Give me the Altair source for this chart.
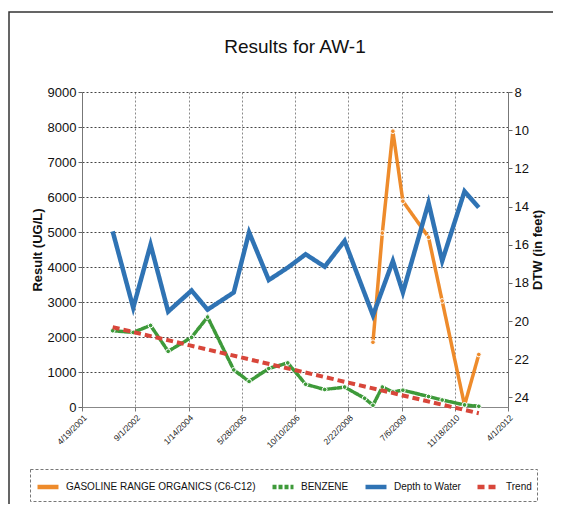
import altair as alt
import pandas as pd

series_names = ["GASOLINE RANGE ORGANICS (C6-C12)", "BENZENE", "Depth to Water", "Trend"]
series_colors = ["#EE8B2B", "#3E9A3A", "#2F73B4", "#D8463A"]
series_dashes = [[1, 0], [4, 2], [1, 0], [7, 4]]

dtw_dates = ["2002-02-01", "2002-08-13", "2003-01-23", "2003-07-07", "2004-02-12",
             "2004-07-11", "2005-03-14", "2005-08-05", "2006-02-06", "2006-08-03",
             "2007-01-18", "2007-07-16", "2008-01-19", "2008-10-11", "2009-04-16",
             "2009-07-19", "2010-03-17", "2010-07-23", "2011-02-18", "2011-07-02"]
dtw_values = [15.3, 19.3, 16.0, 19.5, 18.4, 19.4, 18.5, 15.35, 17.85, 17.2,
              16.5, 17.15, 15.8, 19.7, 16.85, 18.5, 13.8, 16.85, 13.2, 14.05]

gro_dates = ["2008-10-11", "2009-01-07", "2009-04-16", "2009-07-19", "2010-03-17",
             "2010-07-23", "2011-02-18", "2011-07-02"]
gro_values = [1850, 4970, 7880, 5880, 4850, 3030, 50, 1500]

benz_dates = ["2002-02-01", "2002-08-13", "2003-01-23", "2003-07-07", "2004-02-12",
              "2004-07-11", "2005-03-14", "2005-08-05", "2006-02-06", "2006-08-03",
              "2007-01-18", "2007-07-16", "2008-01-19", "2008-07-25", "2008-10-11",
              "2009-01-07", "2009-04-16", "2009-07-19", "2010-03-17", "2010-07-23",
              "2011-02-18", "2011-07-02"]
benz_values = [2180, 2130, 2330, 1590, 1990, 2570, 1060, 730, 1100, 1260,
               650, 500, 570, 250, 50, 570, 430, 480, 300, 200, 60, 20]

trend_dates = ["2002-02-01", "2011-07-02"]
trend_values = [2280, -180]

x_ticks = [(2001, 4, 19), (2002, 9, 1), (2004, 1, 14), (2005, 5, 28), (2006, 10, 10),
           (2008, 2, 22), (2009, 7, 6), (2010, 11, 18), (2012, 4, 1)]
left_ticks = list(range(0, 9001, 1000))
right_ticks = list(range(8, 25, 2))

FONT = "Liberation Sans"


def rows(name, dates, values, col):
    return pd.DataFrame({"series": name, "date": [d + "T00:00:00" for d in dates], col: values})


chem = pd.concat([rows(series_names[0], gro_dates, gro_values, "value"),
                  rows(series_names[1], benz_dates, benz_values, "value")])
trend = rows(series_names[3], trend_dates, trend_values, "value")
dtw = rows(series_names[2], dtw_dates, dtw_values, "dtw")

dt = [alt.DateTime(year=y, month=m, date=d) for (y, m, d) in x_ticks]

x_enc = alt.X("date:T",
              scale=alt.Scale(domain=[dt[0], dt[-1]]),
              axis=alt.Axis(values=dt, format="%-m/%-d/%Y", labelAngle=-45,
                            labelFontSize=8.5, labelFont=FONT, labelColor="#222",
                            grid=True, gridColor="#8a8a8a", gridDash=[2, 2],
                            tickSize=4, tickColor="#777", domainColor="#888",
                            labelPadding=2, title=None))

y_left = alt.Y("value:Q",
               scale=alt.Scale(domain=[0, 9000], nice=False),
               axis=alt.Axis(values=left_ticks, format="d", title="Result (UG/L)",
                             labelFontSize=13, labelFont=FONT, labelColor="#111",
                             titleFont=FONT, titleFontSize=13, titleFontWeight="bold",
                             titleColor="#111", titlePadding=3,
                             grid=True, gridColor="#444", gridDash=[2, 2],
                             tickSize=4, tickColor="#666", domainColor="#777"))

color_enc = alt.Color("series:N",
                      scale=alt.Scale(domain=series_names, range=series_colors),
                      legend=alt.Legend(title=None))
dash_enc = alt.StrokeDash("series:N",
                          scale=alt.Scale(domain=series_names, range=series_dashes),
                          legend=alt.Legend(title=None))

chem_lines = alt.Chart(chem).mark_line(strokeWidth=3.5, strokeCap="round").encode(
    x=x_enc, y=y_left, color=color_enc, strokeDash=dash_enc, detail="series:N")

chem_points = alt.Chart(chem).mark_circle(size=22, stroke="white", strokeWidth=1, opacity=1).encode(
    x=x_enc, y=y_left,
    fill=alt.Fill("series:N", scale=alt.Scale(domain=series_names, range=series_colors), legend=None))

trend_line = alt.Chart(trend).mark_line(strokeWidth=4).encode(
    x=x_enc, y=y_left, color=color_enc, strokeDash=dash_enc)

left = alt.layer(chem_lines, chem_points, trend_line)

dtw_line = alt.Chart(dtw).mark_line(strokeWidth=4.5, strokeJoin="miter").encode(
    x=x_enc,
    y=alt.Y("dtw:Q",
            scale=alt.Scale(domain=[8, 24.5], reverse=True, nice=False, zero=False),
            axis=alt.Axis(orient="right", values=right_ticks, title="DTW (in feet)",
                          labelFontSize=13, labelFont=FONT, labelColor="#111",
                          titleFont=FONT, titleFontSize=13, titleFontWeight="bold",
                          titleColor="#111", titleAngle=270, titleBaseline="top",
                          titlePadding=3,
                          grid=False, tickSize=4, tickColor="#666", domainColor="#777")),
    color=color_enc, strokeDash=dash_enc)

frame = alt.Chart(pd.DataFrame({"k": [0]})).mark_rect(
    fill=None, stroke="#333", strokeWidth=1.5).encode(
    x=alt.value(-73), x2=alt.value(490), y=alt.value(-80), y2=alt.value(440))

chart = alt.layer(frame, left, dtw_line).resolve_scale(y="independent").properties(
    width=426, height=315,
    autosize=alt.AutoSizeParams(type="none"),
    padding={"left": 74, "top": 84, "right": 45, "bottom": 97},
    background="white",
    title=alt.TitleParams("Results for AW-1", fontSize=19, font=FONT,
                          fontWeight="normal", color="#111", anchor="middle",
                          offset=26, dy=72),
).configure_view(stroke=None).configure_legend(
    orient="none", legendX=-52, legendY=377, direction="horizontal", columns=4,
    symbolType="stroke", symbolSize=440, symbolStrokeWidth=4.5,
    labelFont=FONT, labelFontSize=10, labelColor="#111", labelOffset=5,
    labelLimit=0, columnPadding=7, padding=5, strokeColor="#777", strokeDash=[3, 2],
)

chart.save("out.html", embed_options={"renderer": "svg", "actions": False})
